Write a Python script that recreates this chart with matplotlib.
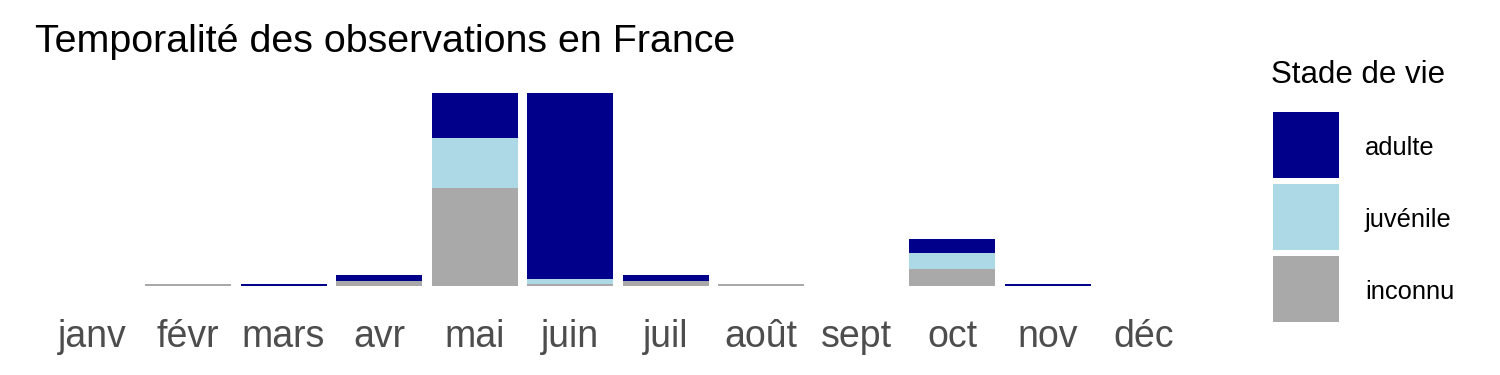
import matplotlib
matplotlib.use("Agg")
import matplotlib.pyplot as plt
import numpy as np
from matplotlib.patches import Rectangle

plt.rcParams['font.family'] = ['Liberation Sans', 'DejaVu Sans']

months = ["janv", "févr", "mars", "avr", "mai", "juin", "juil", "août", "sept", "oct", "nov", "déc"]
stages = ["inconnu", "juvénile", "adulte"]
inconnu = [0, 1, 0, 2.5, 57, 1, 3, 1, 0, 10, 0, 0]
juvenile = [0, 0, 0, 0, 29, 3, 0, 0, 0, 9, 0, 0]
adulte = [0, 0, 1, 4, 26, 108, 3, 0, 0, 8, 1, 0]
colors = {"adulte": "#00008B", "juvénile": "#ADD8E6", "inconnu": "#A9A9A9"}

W, H = 1500, 375
fig = plt.figure(figsize=(15, 3.75), dpi=100)
ax = fig.add_axes([35.1 / W, 1 - 295.3 / H, 1165.8 / W, 211.5 / H])

x = np.arange(len(months))
bottom = np.zeros(len(months))
for name, vals in zip(stages, [inconnu, juvenile, adulte]):
    v = np.array(vals, dtype=float)
    ax.bar(x, v, width=0.9, bottom=bottom, color=colors[name], linewidth=0)
    bottom += v

top = bottom.max()
ax.set_xlim(-0.6, len(months) - 0.4)
ax.set_ylim(-0.05 * top, 1.05 * top)
ax.set_xticks(x)
ax.set_xticklabels(months, fontsize=27, color="#4D4D4D")
ax.tick_params(axis="x", length=0, pad=17)
ax.set_yticks([])
for s in ax.spines.values():
    s.set_visible(False)

fig.text(35 / W, 1 - 51.7 / H, "Temporalité des observations en France",
         fontsize=28.4, color="black", va="baseline", ha="left")

# legend
fig.text(1271 / W, 1 - 83 / H, "Stade de vie", fontsize=22.5, va="baseline", ha="left")
key_tops = [111.7, 184, 256]
for name, t in zip(["adulte", "juvénile", "inconnu"], key_tops):
    fig.patches.append(Rectangle((1273 / W, 1 - (t + 66) / H), 66 / W, 66 / H,
                                 transform=fig.transFigure, color=colors[name], linewidth=0))
    fig.text(1365 / W, 1 - (t + 36) / H, name, fontsize=18.4, va="center", ha="left")

fig.savefig("out.png", dpi=100)
